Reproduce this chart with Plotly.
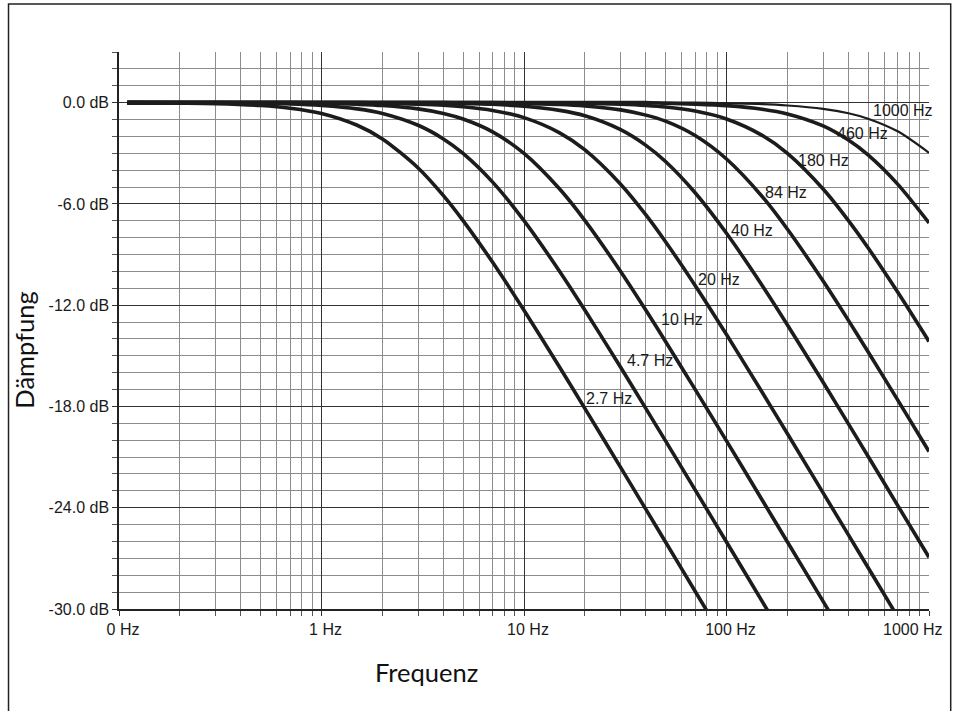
import plotly.graph_objects as go

# ---------------- data ----------------
freq_hz = [0.11, 0.2, 0.3, 0.5, 0.7, 1, 1.5, 2, 3, 4, 5, 7, 10, 15, 20, 30, 40, 50, 70,
           100, 150, 200, 300, 400, 500, 700, 1000]

curve_names = ["2.7 Hz", "4.7 Hz", "10 Hz", "20 Hz", "40 Hz", "84 Hz", "180 Hz", "460 Hz", "1000 Hz"]

db_2_7 = [0.0, -0.03, -0.06, -0.17, -0.33, -0.64, -1.34, -2.15, -3.87, -5.51, -6.99, -9.46,
          -12.30, -15.68, -18.13, -21.61, -24.10, -26.03, -28.95, -32.04]
db_4_7 = [0.0, -0.01, -0.02, -0.04, -0.08, -0.17, -0.37, -0.64, -1.34, -2.15, -3.01, -4.71,
          -6.99, -10.00, -12.30, -15.68, -18.13, -20.04, -22.94, -26.03, -29.55, -32.04]
db_10 = [0.0, 0.0, 0.0, -0.01, -0.02, -0.04, -0.10, -0.17, -0.37, -0.64, -0.97, -1.73,
         -3.01, -5.12, -6.99, -10.00, -12.30, -14.15, -16.99, -20.04, -23.54, -26.03, -29.55, -32.04]
db_20 = [0.0, 0.0, 0.0, 0.0, 0.0, -0.01, -0.02, -0.04, -0.09, -0.15, -0.24, -0.46,
         -0.89, -1.79, -2.80, -4.83, -6.65, -8.24, -10.83, -13.74, -17.16, -19.62, -23.12,
         -25.61, -27.54, -30.46]
db_40 = [0.0, 0.0, 0.0, 0.0, 0.0, 0.0, 0.0, -0.01, -0.02, -0.03, -0.05, -0.10,
         -0.21, -0.46, -0.78, -1.60, -2.53, -3.49, -5.34, -7.74, -10.83, -13.17, -16.57,
         -19.03, -20.95, -23.86, -26.94]
db_84 = [0.0, 0.0, 0.0, 0.0, 0.0, 0.0, 0.0, 0.0, 0.0, 0.0, -0.01, -0.02,
         -0.05, -0.11, -0.20, -0.43, -0.74, -1.10, -1.95, -3.34, -5.56, -7.50, -10.57,
         -12.90, -14.76, -17.61, -20.67]
db_180 = [0.0, 0.0, 0.0, 0.0, 0.0, 0.0, 0.0, 0.0, 0.0, 0.0, 0.0, 0.0,
          -0.01, -0.02, -0.04, -0.10, -0.17, -0.26, -0.50, -0.97, -1.94, -3.01, -5.12,
          -6.99, -8.60, -11.22, -14.15]
db_460 = [0.0, 0.0, 0.0, 0.0, 0.0, 0.0, 0.0, 0.0, 0.0, 0.0, 0.0, 0.0,
          0.0, 0.0, 0.0, 0.0, 0.0, -0.04, -0.09, -0.18, -0.39, -0.67, -1.38,
          -2.22, -3.10, -4.83, -7.13]
db_1000 = [0.0, 0.0, 0.0, 0.0, 0.0, 0.0, 0.0, 0.0, 0.0, 0.0, 0.0, 0.0,
           0.0, 0.0, 0.0, 0.0, 0.0, 0.0, 0.0, -0.04, -0.09, -0.17, -0.37,
           -0.63, -0.95, -1.70, -2.97]

curve_db = [db_2_7, db_4_7, db_10, db_20, db_40, db_84, db_180, db_460, db_1000]

x_tick_vals = [0.1, 1, 10, 100, 1000]
x_tick_text = ["0 Hz", "1 Hz", "10 Hz", "100 Hz", ""]
x_last_label = "1000 Hz"   # drawn shifted left so it stays inside the frame
x_minor_vals = [m * d for d in (0.1, 1, 10, 100) for m in range(2, 10)]
y_tick_vals = [0, -6, -12, -18, -24, -30]
y_tick_text = ["0.0 dB", "-6.0 dB", "-12.0 dB", "-18.0 dB", "-24.0 dB", "-30.0 dB"]

# label anchor positions (log10 frequency, dB) -- layout only
label_pos = [(1.295, -17.5), (1.498, -15.3), (1.667, -12.85), (1.851, -10.45),
             (2.011, -7.55), (2.180, -5.35), (2.345, -3.4), (2.534, -1.85), (2.715, -0.45)]

# ---------------- figure ----------------
fig = go.Figure()
for name, db in zip(curve_names, curve_db):
    fig.add_trace(go.Scatter(
        x=freq_hz[:len(db)], y=db, mode="lines", name=name,
        line=dict(color="#1c1c1c", width=2.2 if name == "1000 Hz" else 3.6,
                  shape="spline", smoothing=0.8),
        showlegend=False, hoverinfo="skip"))

tick_font = dict(family="Liberation Sans, Arial, sans-serif", size=16, color="#1a1a1a")

for name, (lx, ly) in zip(curve_names, label_pos):
    fig.add_annotation(x=lx, y=ly, xref="x", yref="y", text=name, showarrow=False,
                       xanchor="left", yanchor="middle", font=tick_font)

fig.add_annotation(x=1.0200, y=-0.0372, xref="paper", yref="paper", text=x_last_label,
                   showarrow=False, xanchor="right", yanchor="middle", font=tick_font)

title_font = dict(family="Lato, Open Sans, sans-serif", size=25.5, color="#111111")
fig.add_annotation(x=0.3795, y=-0.1126, xref="paper", yref="paper", text="Frequenz",
                   showarrow=False, xanchor="center", yanchor="middle", font=title_font)
fig.add_annotation(x=-0.1172, y=0.4639, xref="paper", yref="paper", text="Dämpfung",
                   showarrow=False, xanchor="center", yanchor="middle", textangle=-90,
                   font=title_font)

# outer frame
fig.add_shape(type="rect", xref="paper", yref="paper", x0=-0.1364, x1=1.0268,
              y0=-0.25, y1=1.0862, line=dict(color="#222222", width=1.5), layer="below")

fig.update_xaxes(
    type="log", range=[-1, 3], tickmode="array", tickvals=x_tick_vals, ticktext=x_tick_text,
    ticks="outside", ticklen=5, tickcolor="#333333", tickfont=tick_font, ticklabelshift=4,
    showgrid=True, gridcolor="#333333", gridwidth=1.3,
    showline=True, linecolor="#222222", linewidth=1.5, zeroline=False,
    minor=dict(tickmode="array", tickvals=x_minor_vals, ticks="outside", ticklen=5,
               tickcolor="#555555", showgrid=True, gridcolor="#8c8c8c", gridwidth=1.4),
)
fig.update_yaxes(
    range=[-30, 3], tickmode="array", tickvals=y_tick_vals, ticktext=y_tick_text,
    ticks="outside", ticklen=5, tickcolor="#333333", tickfont=tick_font,
    showgrid=True, gridcolor="#333333", gridwidth=1.3,
    showline=True, linecolor="#222222", linewidth=1.5, zeroline=False,
    minor=dict(dtick=1, tick0=0, ticks="outside", ticklen=5, tickcolor="#555555",
               showgrid=True, gridcolor="#8c8c8c", gridwidth=1.4),
)

fig.update_layout(
    width=955, height=711,
    margin=dict(l=119, r=26, t=52, b=102),
    paper_bgcolor="white", plot_bgcolor="white",
    showlegend=False,
)

fig.write_html("out.html", config={"displayModeBar": False},
               post_script="document.body.style.margin='0';document.body.style.overflow='hidden';")
